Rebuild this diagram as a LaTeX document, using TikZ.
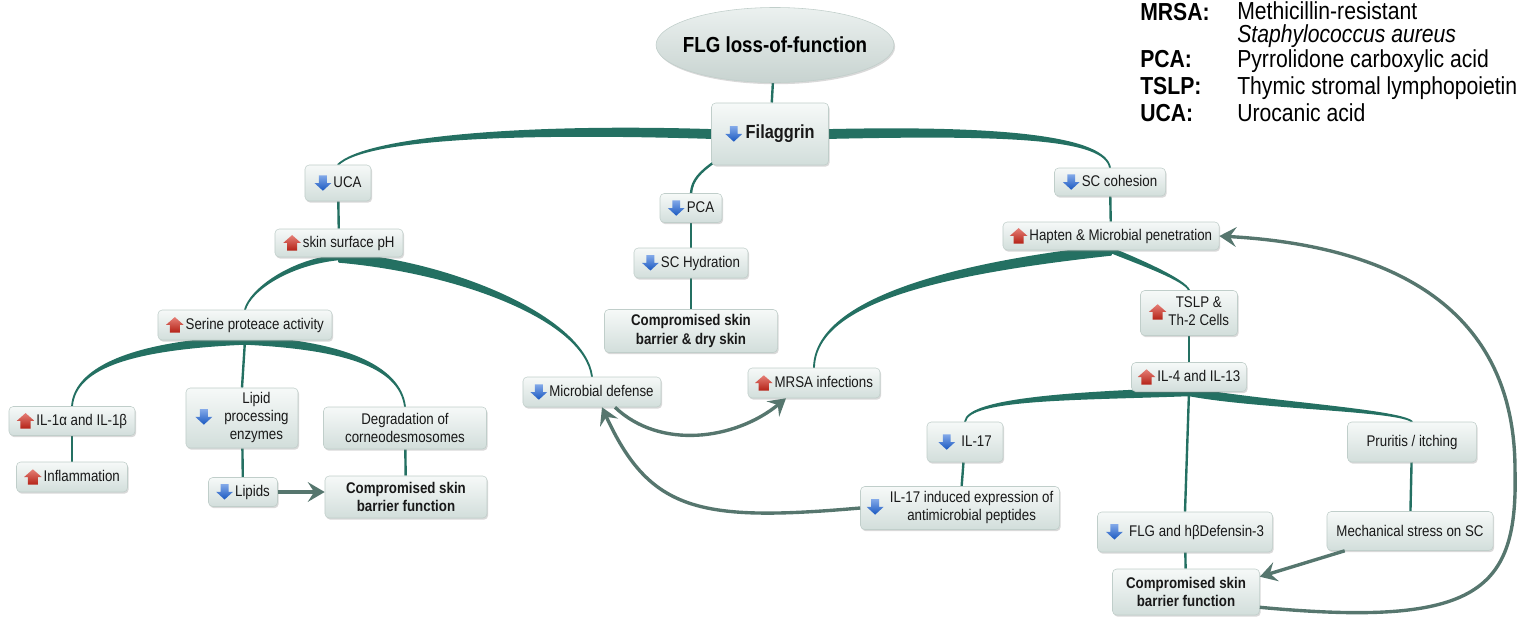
\documentclass[tikz,border=0pt]{standalone}
\usepackage{fontspec}
\setmainfont{Liberation Sans}[FakeStretch=0.86]
\usepackage{tikz}
\usetikzlibrary{shapes.geometric, arrows.meta, calc, shadows}
\definecolor{branchteal}{RGB}{36,112,98}
\definecolor{arrowgrey}{RGB}{86,118,110}
\definecolor{boxtop}{RGB}{246,249,248}
\definecolor{boxbottom}{RGB}{210,222,219}
\definecolor{boxedge}{RGB}{192,206,202}
\definecolor{downblue}{RGB}{28,98,214}
\definecolor{upred}{RGB}{212,40,26}

\pgfdeclarelayer{background}
\pgfsetlayers{background,main}

\newsavebox{\dnbox}
\newsavebox{\upbox}

% tapered branch: from, control 1, control 2, to, half width at start
\newcommand{\taper}[5]{%
  \filldraw[branch] ($#1+(0,#5)$) .. controls ($#2+(0,#5)$) and #3 .. #4
    .. controls #3 and ($#2-(0,#5)$) .. ($#1-(0,#5)$) -- cycle;}

\begin{document}
\begin{tikzpicture}[x=0.025cm, y=-0.025cm,
    box/.style={rectangle, rounded corners=3pt, draw=boxedge, line width=0.4pt,
                top color=boxtop, bottom color=boxbottom,
                drop shadow={shadow xshift=0.8pt, shadow yshift=-1.2pt, opacity=0.3},
                font=\fontsize{11}{12.5}\selectfont, text=black!90, align=center, inner sep=1pt},
    strong/.style={box, font=\fontsize{11}{13}\selectfont\bfseries},
    start/.style={ellipse, draw=boxedge, top color=boxtop!70!boxbottom, bottom color=boxbottom!95!black,
                  drop shadow={shadow xshift=0.8pt, shadow yshift=-1.2pt, opacity=0.3},
                  font=\fontsize{15.5}{18}\selectfont\bfseries, inner xsep=-0.2cm, inner ysep=0pt},
    legkey/.style={anchor=base west, inner sep=0pt, font=\fontsize{17.5}{16}\selectfont\bfseries},
    legdef/.style={anchor=base west, inner sep=0pt, align=left, font=\fontsize{17.5}{16}\selectfont},
    branch/.style={fill=branchteal, draw=branchteal, line width=1.3pt, line join=round},
    link/.style={draw=branchteal, line width=1.7pt},
    flow/.style={draw=arrowgrey, line width=2.4pt, -{Stealth[length=12pt, width=14pt, inset=4.5pt]}}
]
    \useasboundingbox (0,0) rectangle (1524,619);
    \pgfinterruptboundingbox
    \global\setbox\dnbox=\hbox{\tikz[baseline={(0pt,2pt)}]\shade[top color=downblue!55, bottom color=downblue!90!black]
        (-2.8pt,11pt) -- (2.8pt,11pt) -- (2.8pt,5.5pt) -- (6pt,5.5pt) -- (0pt,0pt)
        -- (-6pt,5.5pt) -- (-2.8pt,5.5pt) -- cycle;\kern1.5pt}
    \global\setbox\upbox=\hbox{\tikz[baseline={(0pt,2pt)}]\shade[top color=upred!60!white, bottom color=upred!85!black]
        (-3.6pt,0pt) -- (3.6pt,0pt) -- (3.6pt,5.5pt) -- (6.2pt,5.5pt) -- (0pt,11pt)
        -- (-6.2pt,5.5pt) -- (-3.6pt,5.5pt) -- cycle;\kern1.5pt}
    \endpgfinterruptboundingbox

    \node[start, minimum width=5.85cm, minimum height=1.875cm] (flg) at (775,45) {FLG loss-of-function};
    \node[box, font=\fontsize{13.5}{16}\selectfont\bfseries, minimum width=2.925cm, minimum height=1.55cm] (filaggrin) at (770,134) {\usebox\dnbox\kern1pt Filaggrin};

    % UCA branch
    \node[box, minimum width=1.65cm, minimum height=0.9cm] (uca) at (338,183) {\usebox\dnbox UCA};
    \node[box, minimum width=3.2cm, minimum height=0.7cm] (ph) at (339,243) {\usebox\upbox skin surface pH};
    \node[box, minimum width=4.35cm, minimum height=0.75cm] (serine) at (245,325) {\usebox\upbox Serine proteace activity};
    \node[box, minimum width=3.15cm, minimum height=0.725cm] (il1) at (72,421) {\usebox\upbox IL-1α and IL-1β};
    \node[box, minimum width=2.775cm, minimum height=0.75cm] (inflam) at (72,477) {\usebox\upbox Inflammation};
    \node[box, minimum width=2.8cm, minimum height=1.5cm] (lipid) at (242,418) {\usebox\dnbox\hspace{7pt}\begin{tabular}{@{}c@{}}Lipid\\processing\\enzymes\end{tabular}};
    \node[box, minimum width=4.075cm, minimum height=1.05cm] (degr) at (405,428) {Degradation of\\corneodesmosomes};
    \node[box, minimum width=1.725cm, minimum height=0.725cm] (lipids) at (243,492) {\usebox\dnbox Lipids};
    \node[strong, minimum width=4.05cm, minimum height=1.05cm] (cbfleft) at (406,497) {Compromised skin\\barrier function};

    % PCA branch
    \node[box, minimum width=1.55cm, minimum height=0.725cm] (pca) at (691,208) {\usebox\dnbox PCA};
    \node[box, minimum width=2.85cm, minimum height=0.75cm] (hydr) at (691,263) {\usebox\dnbox SC Hydration};
    \node[strong, minimum width=4.325cm, minimum height=1.075cm] (dry) at (691,331) {Compromised skin\\barrier \& dry skin};
    \node[box, minimum width=3.45cm, minimum height=0.75cm] (microb) at (592,392) {\usebox\dnbox Microbial defense};
    \node[box, minimum width=3.3cm, minimum height=0.75cm] (mrsa) at (814,383) {\usebox\upbox MRSA infections};
    \node[box, minimum width=1.9cm, minimum height=1cm] (il17) at (965,442) {\usebox\dnbox\hspace{3pt}IL-17};
    \node[box, minimum width=4.975cm, minimum height=1.075cm] (amp) at (960,508) {\usebox\dnbox\hspace{3pt}\begin{tabular}{@{}c@{}}IL-17 induced expression of\\antimicrobial peptides\end{tabular}};

    % SC cohesion branch
    \node[box, minimum width=2.775cm, minimum height=0.7cm] (sccoh) at (1110,182) {\usebox\dnbox SC cohesion};
    \node[box, minimum width=5.4cm, minimum height=0.7cm] (hapten) at (1111,236) {\usebox\upbox Hapten \& Microbial penetration};
    \node[box, minimum width=2.425cm, minimum height=1.125cm] (tslp) at (1189,313) {\usebox\upbox\begin{tabular}{@{}c@{}}TSLP \&\\Th-2 Cells\end{tabular}};
    \node[box, minimum width=2.875cm, minimum height=0.725cm] (il4) at (1189,377) {\usebox\upbox IL-4 and IL-13};
    \node[box, minimum width=3.225cm, minimum height=1cm] (prur) at (1412,442) {Pruritis / itching};
    \node[box, minimum width=4.15cm, minimum height=0.975cm] (mech) at (1410,531) {Mechanical stress on SC};
    \node[box, minimum width=4.375cm, minimum height=1cm] (flgdef) at (1185,532) {\usebox\dnbox\hspace{3pt}FLG and hβDefensin-3};
    \node[strong, minimum width=3.675cm, minimum height=1.15cm] (cbfright) at (1186,592) {Compromised skin\\barrier function};

    % abbreviations
    \node[legkey] (kmrsa) at (1140,20) {MRSA:};
    \node[legdef] (dmrsa) at (1237,42) {Methicillin-resistant\\\textit{Staphylococcus aureus}};
    \node[legkey] (kpca) at (1140,67) {PCA:};
    \node[legdef] (dpca) at (1237,67) {Pyrrolidone carboxylic acid};
    \node[legkey] (ktslp) at (1140,94) {TSLP:};
    \node[legdef] (dtslp) at (1237,94) {Thymic stromal lymphopoietin};
    \node[legkey] (kuca) at (1140,121) {UCA:};
    \node[legdef] (duca) at (1237,121) {Urocanic acid};

    \begin{pgfonlayer}{background}
        \draw[link] (flg) -- (filaggrin);
        \taper{(filaggrin.west)}{(520,128)}{(365,138)}{(uca.north)}{4}
        \taper{(filaggrin.east)}{(1010,130)}{(1105,138)}{(sccoh.north)}{4}
        \draw[link] ($(filaggrin.south west)+(4,-4)$) .. controls (700,172) and (692,180) .. (pca.north);

        \draw[link] (uca) -- (ph);
        \taper{(ph.south)}{(290,262)}{(250,290)}{(serine.north)}{2}
        \taper{(ph.south)}{(460,268)}{(585,320)}{(microb.north)}{4.5}
        \taper{(serine.south)}{(140,345)}{(75,365)}{(il1.north)}{3.5}
        \taper{(serine.south)}{(340,345)}{(400,365)}{(degr.north)}{3.5}
        \draw[link] (serine.south) -- (lipid.north);
        \draw[link] (il1) -- (inflam);
        \draw[link] (lipid) -- (lipids);
        \draw[link] (degr) -- (cbfleft);

        \draw[link] (pca) -- (hydr);
        \draw[link] (hydr) -- (dry);

        \draw[link] (sccoh) -- (hapten);
        \taper{(hapten.south)}{(950,268)}{(815,300)}{(mrsa.north)}{4.5}
        \taper{(hapten.south)}{(1140,262)}{(1185,280)}{(tslp.north)}{2}
        \draw[link] (tslp) -- (il4);
        \taper{(il4.south)}{(1080,396)}{(968,398)}{(il17.north)}{3.5}
        \taper{(il4.south)}{(1260,405)}{(1400,410)}{(prur.north)}{3.5}
        \draw[link] (il4.south) -- (flgdef.north);
        \draw[link] (il17) -- (amp);
        \draw[link] (prur) -- (mech);
        \draw[link] (flgdef) -- (cbfright);
    \end{pgfonlayer}

    % feedback arrows
    \draw[flow, line width=3pt] (lipids.east) -- (lipids.east -| cbfleft.west);
    \draw[flow] ($(microb.south)+(23,0)$) .. controls (660,450) and (735,440) .. ($(mrsa.south)+(-28,0)$);
    \draw[flow] (amp.west) .. controls (700,522) and (650,512) .. ($(microb.south)+(10,0)$);
    \draw[flow] ($(mech.south west)+(18,0)$) -- ($(cbfright.north east)+(0,8)$);
    \draw[flow] ($(cbfright.south east)+(0,-8)$) .. controls (1480,628) and (1518,590) .. (1515,470)
        .. controls (1515,300) and (1380,245) .. (hapten.east);
\end{tikzpicture}
\end{document}
